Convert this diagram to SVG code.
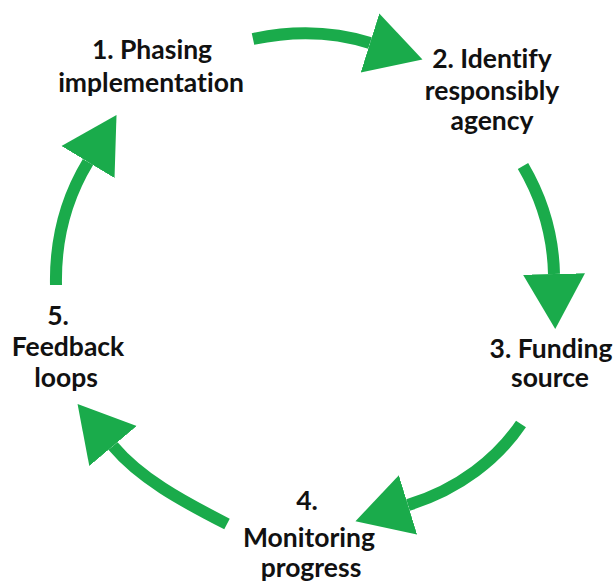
<svg xmlns="http://www.w3.org/2000/svg" width="615" height="583" viewBox="0 0 615 583">
<style>
.lbl{font-family:Lato,"Open Sans","Liberation Sans",sans-serif;font-weight:bold;font-size:26.5px;fill:#111111;text-anchor:middle;font-variant-ligatures:none}
.shaft{fill:none;stroke:#1aab4b;stroke-width:12;stroke-linecap:butt}
</style>
<defs>
<marker id="head" markerUnits="userSpaceOnUse" viewBox="0 -32 56 64" markerWidth="56" markerHeight="64" refX="0" refY="0" orient="auto">
<path d="M0,-31 L55,0 L0,31 Z" fill="#1aab4b"/>
</marker>
</defs>
<rect width="615" height="583" fill="#ffffff"/>
<g id="connectors">
<path class="shaft" d="M253,39 C295,30 335,32 370,43" marker-end="url(#head)"/>
<path class="shaft" d="M523,166 C540,195 553,230 554,274" marker-end="url(#head)"/>
<path class="shaft" d="M521,424 C498,458 460,489 408,505" marker-end="url(#head)"/>
<path class="shaft" d="M227,524 C180,500 140,478 113,446" marker-end="url(#head)"/>
<path class="shaft" d="M56,285 C55,235 68,195 88,162" marker-end="url(#head)"/>
</g>
<g id="node1">
<text class="lbl" x="152" y="59">1. Phasing</text>
<text class="lbl" x="151" y="92">implementation</text>
</g>
<g id="node2">
<text class="lbl" x="492" y="68">2. Identify</text>
<text class="lbl" x="492" y="100">responsibly</text>
<text class="lbl" x="492" y="130">agency</text>
</g>
<g id="node3">
<text class="lbl" x="551" y="358">3. Funding</text>
<text class="lbl" x="550" y="387">source</text>
</g>
<g id="node4">
<text class="lbl" x="307" y="510">4.</text>
<text class="lbl" x="309" y="547">Monitoring</text>
<text class="lbl" x="311" y="577">progress</text>
</g>
<g id="node5">
<text class="lbl" x="58" y="325">5.</text>
<text class="lbl" x="68" y="356">Feedback</text>
<text class="lbl" x="66" y="387">loops</text>
</g>
</svg>
